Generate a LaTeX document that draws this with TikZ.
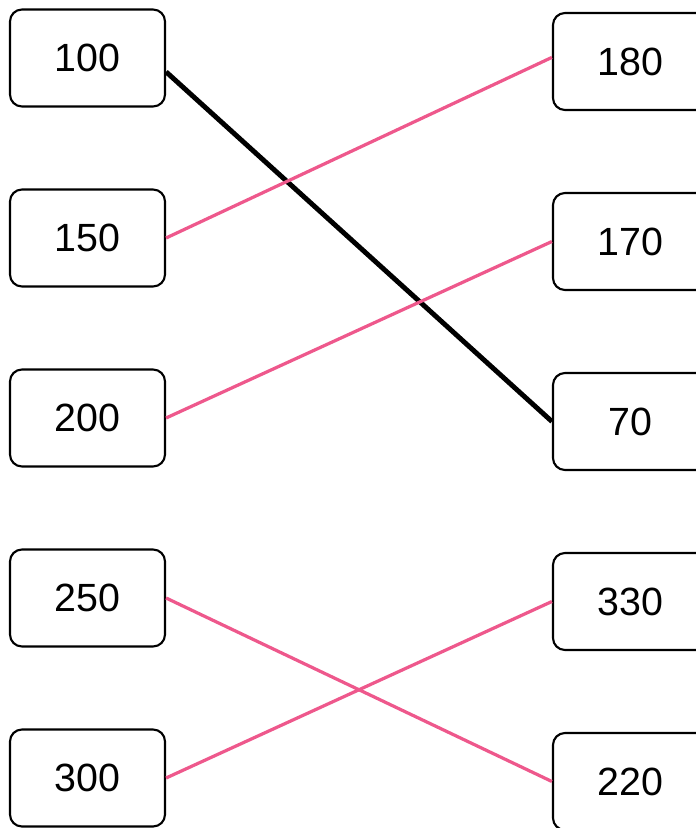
\documentclass[tikz,border=0pt]{standalone}
\usepackage{fontspec}
\setmainfont{Liberation Sans}
\usetikzlibrary{positioning}
\definecolor{linkpink}{RGB}{238,88,140}

\begin{document}
\begin{tikzpicture}[x=0.025cm,y=-0.025cm,
  numbox/.style={draw, line width=1.5pt, rounded corners=0.3cm, minimum width=3.875cm, minimum height=2.425cm, inner sep=0pt, font=\fontsize{28}{32}\selectfont},
  match/.style={linkpink, line width=2.3pt},
  given/.style={black, line width=3.5pt}]
\clip (0,0) rectangle (696,828);
% left column
\node[numbox] (l100) at (87.5,58) {100};
\node[numbox] (l150) at (87.5,238) {150};
\node[numbox] (l200) at (87.5,418) {200};
\node[numbox] (l250) at (87.5,598) {250};
\node[numbox] (l300) at (87.5,778) {300};
% right column
\node[numbox] (r180) at (630.5,61.5) {180};
\node[numbox] (r170) at (630.5,241.5) {170};
\node[numbox] (r70) at (630.5,421.5) {70};
\node[numbox] (r330) at (630.5,601.5) {330};
\node[numbox] (r220) at (630.5,781.5) {220};
% example pair
\draw[given] (l100.-10) -- (r70.west);
% matched pairs
\draw[match] (l150.east) -- (r180.177);
\draw[match] (l200.east) -- (r170.west);
\draw[match] (l250.east) -- (r220.west);
\draw[match] (l300.east) -- (r330.west);
\end{tikzpicture}
\end{document}
